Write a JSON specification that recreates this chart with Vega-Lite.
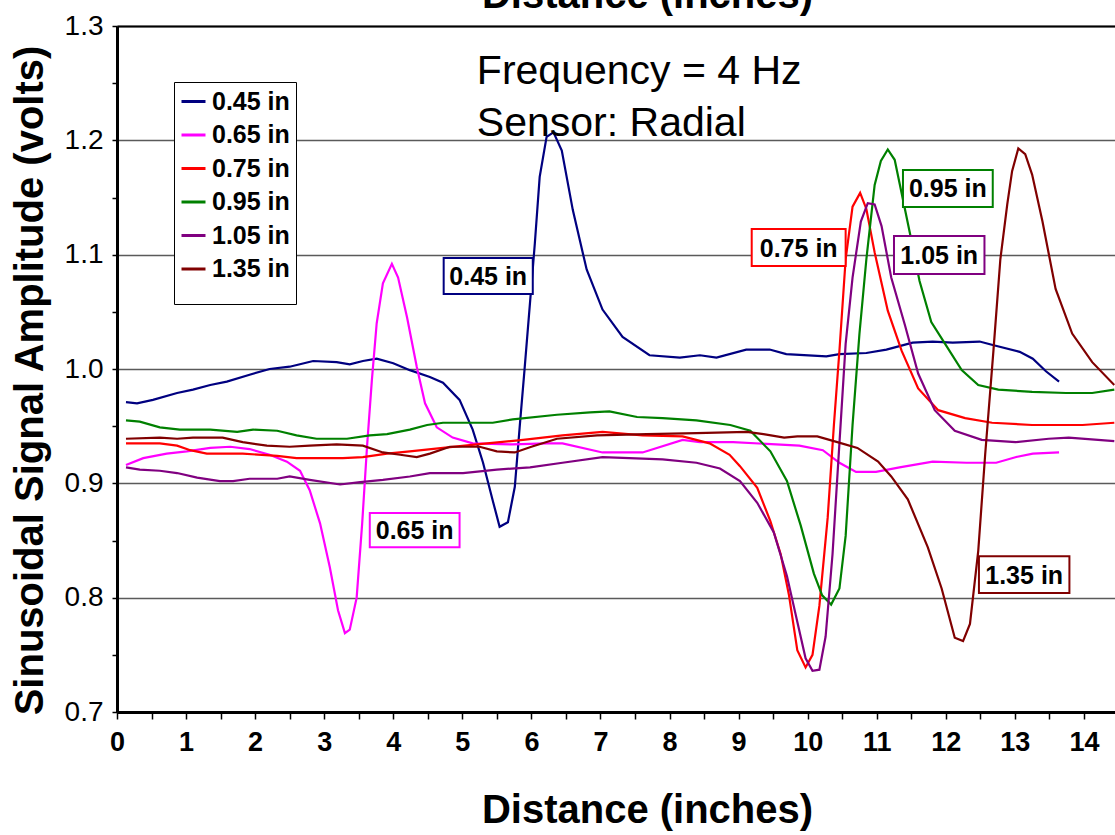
{
  "$schema": "https://vega.github.io/schema/vega-lite/v6.json",
  "autosize": "none",
  "width": 998,
  "height": 686,
  "padding": {"left": 117, "top": 26, "right": 0, "bottom": 123},
  "background": "white",
  "config": {"view": {"stroke": null}, "font": "Liberation Sans"},
  "datasets": {
    "series": [
      {"d":"0.45 in","x":0.13,"y":0.971},{"d":"0.45 in","x":0.29,"y":0.970},{"d":"0.45 in","x":0.52,"y":0.973},{"d":"0.45 in","x":0.87,"y":0.979},{"d":"0.45 in","x":1.10,"y":0.982},{"d":"0.45 in","x":1.35,"y":0.986},{"d":"0.45 in","x":1.59,"y":0.989},{"d":"0.45 in","x":1.92,"y":0.995},{"d":"0.45 in","x":2.21,"y":1.000},{"d":"0.45 in","x":2.50,"y":1.002},{"d":"0.45 in","x":2.84,"y":1.007},{"d":"0.45 in","x":3.18,"y":1.006},{"d":"0.45 in","x":3.37,"y":1.004},{"d":"0.45 in","x":3.56,"y":1.007},{"d":"0.45 in","x":3.76,"y":1.009},{"d":"0.45 in","x":4.00,"y":1.005},{"d":"0.45 in","x":4.24,"y":0.999},{"d":"0.45 in","x":4.53,"y":0.993},{"d":"0.45 in","x":4.72,"y":0.988},{"d":"0.45 in","x":4.96,"y":0.973},{"d":"0.45 in","x":5.15,"y":0.947},{"d":"0.45 in","x":5.30,"y":0.918},{"d":"0.45 in","x":5.44,"y":0.885},{"d":"0.45 in","x":5.54,"y":0.862},{"d":"0.45 in","x":5.66,"y":0.866},{"d":"0.45 in","x":5.76,"y":0.897},{"d":"0.45 in","x":5.83,"y":0.949},{"d":"0.45 in","x":5.90,"y":0.999},{"d":"0.45 in","x":5.98,"y":1.058},{"d":"0.45 in","x":6.05,"y":1.110},{"d":"0.45 in","x":6.12,"y":1.168},{"d":"0.45 in","x":6.22,"y":1.203},{"d":"0.45 in","x":6.32,"y":1.207},{"d":"0.45 in","x":6.44,"y":1.191},{"d":"0.45 in","x":6.60,"y":1.139},{"d":"0.45 in","x":6.80,"y":1.087},{"d":"0.45 in","x":7.03,"y":1.052},{"d":"0.45 in","x":7.32,"y":1.028},{"d":"0.45 in","x":7.71,"y":1.012},{"d":"0.45 in","x":8.15,"y":1.010},{"d":"0.45 in","x":8.44,"y":1.012},{"d":"0.45 in","x":8.68,"y":1.010},{"d":"0.45 in","x":9.11,"y":1.017},{"d":"0.45 in","x":9.45,"y":1.017},{"d":"0.45 in","x":9.69,"y":1.013},{"d":"0.45 in","x":10.27,"y":1.011},{"d":"0.45 in","x":10.46,"y":1.013},{"d":"0.45 in","x":10.85,"y":1.014},{"d":"0.45 in","x":11.14,"y":1.017},{"d":"0.45 in","x":11.52,"y":1.023},{"d":"0.45 in","x":11.81,"y":1.024},{"d":"0.45 in","x":12.10,"y":1.023},{"d":"0.45 in","x":12.49,"y":1.024},{"d":"0.45 in","x":12.68,"y":1.021},{"d":"0.45 in","x":13.07,"y":1.015},{"d":"0.45 in","x":13.26,"y":1.009},{"d":"0.45 in","x":13.45,"y":0.998},{"d":"0.45 in","x":13.64,"y":0.989},
      {"d":"0.65 in","x":0.13,"y":0.916},{"d":"0.65 in","x":0.38,"y":0.922},{"d":"0.65 in","x":0.72,"y":0.926},{"d":"0.65 in","x":1.01,"y":0.928},{"d":"0.65 in","x":1.35,"y":0.931},{"d":"0.65 in","x":1.64,"y":0.932},{"d":"0.65 in","x":1.92,"y":0.930},{"d":"0.65 in","x":2.21,"y":0.925},{"d":"0.65 in","x":2.46,"y":0.919},{"d":"0.65 in","x":2.65,"y":0.911},{"d":"0.65 in","x":2.79,"y":0.894},{"d":"0.65 in","x":2.94,"y":0.865},{"d":"0.65 in","x":3.08,"y":0.827},{"d":"0.65 in","x":3.20,"y":0.789},{"d":"0.65 in","x":3.30,"y":0.769},{"d":"0.65 in","x":3.37,"y":0.772},{"d":"0.65 in","x":3.47,"y":0.800},{"d":"0.65 in","x":3.55,"y":0.865},{"d":"0.65 in","x":3.62,"y":0.932},{"d":"0.65 in","x":3.69,"y":0.990},{"d":"0.65 in","x":3.76,"y":1.040},{"d":"0.65 in","x":3.85,"y":1.075},{"d":"0.65 in","x":3.98,"y":1.092},{"d":"0.65 in","x":4.07,"y":1.080},{"d":"0.65 in","x":4.20,"y":1.045},{"d":"0.65 in","x":4.34,"y":1.002},{"d":"0.65 in","x":4.46,"y":0.970},{"d":"0.65 in","x":4.63,"y":0.949},{"d":"0.65 in","x":4.86,"y":0.940},{"d":"0.65 in","x":5.15,"y":0.935},{"d":"0.65 in","x":5.73,"y":0.934},{"d":"0.65 in","x":6.22,"y":0.935},{"d":"0.65 in","x":6.45,"y":0.935},{"d":"0.65 in","x":7.03,"y":0.927},{"d":"0.65 in","x":7.61,"y":0.927},{"d":"0.65 in","x":8.19,"y":0.938},{"d":"0.65 in","x":8.44,"y":0.936},{"d":"0.65 in","x":8.92,"y":0.936},{"d":"0.65 in","x":9.88,"y":0.933},{"d":"0.65 in","x":10.22,"y":0.929},{"d":"0.65 in","x":10.46,"y":0.918},{"d":"0.65 in","x":10.70,"y":0.910},{"d":"0.65 in","x":10.99,"y":0.910},{"d":"0.65 in","x":11.33,"y":0.914},{"d":"0.65 in","x":11.81,"y":0.919},{"d":"0.65 in","x":12.30,"y":0.918},{"d":"0.65 in","x":12.73,"y":0.918},{"d":"0.65 in","x":13.02,"y":0.923},{"d":"0.65 in","x":13.26,"y":0.926},{"d":"0.65 in","x":13.64,"y":0.927},
      {"d":"0.75 in","x":0.13,"y":0.935},{"d":"0.75 in","x":0.62,"y":0.935},{"d":"0.75 in","x":0.87,"y":0.933},{"d":"0.75 in","x":1.06,"y":0.929},{"d":"0.75 in","x":1.30,"y":0.926},{"d":"0.75 in","x":1.82,"y":0.926},{"d":"0.75 in","x":2.32,"y":0.924},{"d":"0.75 in","x":2.60,"y":0.922},{"d":"0.75 in","x":3.27,"y":0.922},{"d":"0.75 in","x":3.56,"y":0.923},{"d":"0.75 in","x":3.91,"y":0.926},{"d":"0.75 in","x":4.24,"y":0.928},{"d":"0.75 in","x":4.72,"y":0.931},{"d":"0.75 in","x":5.21,"y":0.934},{"d":"0.75 in","x":5.88,"y":0.938},{"d":"0.75 in","x":6.45,"y":0.942},{"d":"0.75 in","x":7.03,"y":0.945},{"d":"0.75 in","x":7.61,"y":0.942},{"d":"0.75 in","x":8.19,"y":0.941},{"d":"0.75 in","x":8.58,"y":0.935},{"d":"0.75 in","x":8.87,"y":0.925},{"d":"0.75 in","x":9.02,"y":0.915},{"d":"0.75 in","x":9.27,"y":0.896},{"d":"0.75 in","x":9.46,"y":0.867},{"d":"0.75 in","x":9.61,"y":0.838},{"d":"0.75 in","x":9.73,"y":0.802},{"d":"0.75 in","x":9.85,"y":0.754},{"d":"0.75 in","x":9.97,"y":0.739},{"d":"0.75 in","x":10.07,"y":0.750},{"d":"0.75 in","x":10.17,"y":0.793},{"d":"0.75 in","x":10.29,"y":0.870},{"d":"0.75 in","x":10.38,"y":0.951},{"d":"0.75 in","x":10.46,"y":1.016},{"d":"0.75 in","x":10.55,"y":1.096},{"d":"0.75 in","x":10.65,"y":1.142},{"d":"0.75 in","x":10.76,"y":1.154},{"d":"0.75 in","x":10.85,"y":1.140},{"d":"0.75 in","x":10.97,"y":1.102},{"d":"0.75 in","x":11.16,"y":1.051},{"d":"0.75 in","x":11.36,"y":1.016},{"d":"0.75 in","x":11.60,"y":0.983},{"d":"0.75 in","x":11.89,"y":0.964},{"d":"0.75 in","x":12.28,"y":0.957},{"d":"0.75 in","x":12.67,"y":0.953},{"d":"0.75 in","x":13.25,"y":0.951},{"d":"0.75 in","x":13.98,"y":0.951},{"d":"0.75 in","x":14.44,"y":0.953},
      {"d":"0.95 in","x":0.13,"y":0.955},{"d":"0.95 in","x":0.33,"y":0.954},{"d":"0.95 in","x":0.62,"y":0.949},{"d":"0.95 in","x":0.91,"y":0.947},{"d":"0.95 in","x":1.35,"y":0.947},{"d":"0.95 in","x":1.74,"y":0.945},{"d":"0.95 in","x":1.97,"y":0.947},{"d":"0.95 in","x":2.32,"y":0.946},{"d":"0.95 in","x":2.60,"y":0.942},{"d":"0.95 in","x":2.89,"y":0.939},{"d":"0.95 in","x":3.33,"y":0.939},{"d":"0.95 in","x":3.66,"y":0.942},{"d":"0.95 in","x":3.91,"y":0.943},{"d":"0.95 in","x":4.24,"y":0.947},{"d":"0.95 in","x":4.49,"y":0.951},{"d":"0.95 in","x":4.72,"y":0.953},{"d":"0.95 in","x":5.44,"y":0.953},{"d":"0.95 in","x":5.73,"y":0.956},{"d":"0.95 in","x":6.37,"y":0.960},{"d":"0.95 in","x":6.85,"y":0.962},{"d":"0.95 in","x":7.13,"y":0.963},{"d":"0.95 in","x":7.53,"y":0.958},{"d":"0.95 in","x":7.90,"y":0.957},{"d":"0.95 in","x":8.39,"y":0.955},{"d":"0.95 in","x":8.88,"y":0.951},{"d":"0.95 in","x":9.17,"y":0.946},{"d":"0.95 in","x":9.46,"y":0.928},{"d":"0.95 in","x":9.70,"y":0.902},{"d":"0.95 in","x":9.90,"y":0.863},{"d":"0.95 in","x":10.09,"y":0.821},{"d":"0.95 in","x":10.21,"y":0.802},{"d":"0.95 in","x":10.34,"y":0.794},{"d":"0.95 in","x":10.46,"y":0.808},{"d":"0.95 in","x":10.55,"y":0.854},{"d":"0.95 in","x":10.65,"y":0.951},{"d":"0.95 in","x":10.75,"y":1.031},{"d":"0.95 in","x":10.85,"y":1.096},{"d":"0.95 in","x":10.97,"y":1.161},{"d":"0.95 in","x":11.06,"y":1.182},{"d":"0.95 in","x":11.16,"y":1.192},{"d":"0.95 in","x":11.26,"y":1.183},{"d":"0.95 in","x":11.36,"y":1.154},{"d":"0.95 in","x":11.48,"y":1.119},{"d":"0.95 in","x":11.62,"y":1.077},{"d":"0.95 in","x":11.79,"y":1.041},{"d":"0.95 in","x":11.99,"y":1.022},{"d":"0.95 in","x":12.23,"y":0.999},{"d":"0.95 in","x":12.47,"y":0.986},{"d":"0.95 in","x":12.76,"y":0.982},{"d":"0.95 in","x":13.25,"y":0.980},{"d":"0.95 in","x":13.74,"y":0.979},{"d":"0.95 in","x":14.12,"y":0.979},{"d":"0.95 in","x":14.44,"y":0.982},
      {"d":"1.05 in","x":0.13,"y":0.914},{"d":"1.05 in","x":0.33,"y":0.912},{"d":"1.05 in","x":0.62,"y":0.911},{"d":"1.05 in","x":0.87,"y":0.909},{"d":"1.05 in","x":1.16,"y":0.905},{"d":"1.05 in","x":1.49,"y":0.902},{"d":"1.05 in","x":1.68,"y":0.902},{"d":"1.05 in","x":1.92,"y":0.904},{"d":"1.05 in","x":2.32,"y":0.904},{"d":"1.05 in","x":2.50,"y":0.906},{"d":"1.05 in","x":2.79,"y":0.903},{"d":"1.05 in","x":3.23,"y":0.899},{"d":"1.05 in","x":3.52,"y":0.901},{"d":"1.05 in","x":3.85,"y":0.903},{"d":"1.05 in","x":4.24,"y":0.906},{"d":"1.05 in","x":4.53,"y":0.909},{"d":"1.05 in","x":5.01,"y":0.909},{"d":"1.05 in","x":5.50,"y":0.912},{"d":"1.05 in","x":5.98,"y":0.914},{"d":"1.05 in","x":6.45,"y":0.918},{"d":"1.05 in","x":7.03,"y":0.923},{"d":"1.05 in","x":7.42,"y":0.922},{"d":"1.05 in","x":7.90,"y":0.921},{"d":"1.05 in","x":8.39,"y":0.918},{"d":"1.05 in","x":8.73,"y":0.913},{"d":"1.05 in","x":9.02,"y":0.902},{"d":"1.05 in","x":9.27,"y":0.883},{"d":"1.05 in","x":9.51,"y":0.857},{"d":"1.05 in","x":9.70,"y":0.819},{"d":"1.05 in","x":9.85,"y":0.779},{"d":"1.05 in","x":9.97,"y":0.747},{"d":"1.05 in","x":10.07,"y":0.736},{"d":"1.05 in","x":10.17,"y":0.737},{"d":"1.05 in","x":10.26,"y":0.766},{"d":"1.05 in","x":10.36,"y":0.838},{"d":"1.05 in","x":10.46,"y":0.935},{"d":"1.05 in","x":10.55,"y":1.022},{"d":"1.05 in","x":10.65,"y":1.080},{"d":"1.05 in","x":10.77,"y":1.129},{"d":"1.05 in","x":10.87,"y":1.145},{"d":"1.05 in","x":10.97,"y":1.144},{"d":"1.05 in","x":11.07,"y":1.125},{"d":"1.05 in","x":11.21,"y":1.080},{"d":"1.05 in","x":11.41,"y":1.038},{"d":"1.05 in","x":11.60,"y":0.996},{"d":"1.05 in","x":11.84,"y":0.964},{"d":"1.05 in","x":12.13,"y":0.946},{"d":"1.05 in","x":12.52,"y":0.938},{"d":"1.05 in","x":13.01,"y":0.936},{"d":"1.05 in","x":13.49,"y":0.939},{"d":"1.05 in","x":13.78,"y":0.940},{"d":"1.05 in","x":14.44,"y":0.937},
      {"d":"1.35 in","x":0.13,"y":0.939},{"d":"1.35 in","x":0.62,"y":0.940},{"d":"1.35 in","x":0.87,"y":0.939},{"d":"1.35 in","x":1.10,"y":0.940},{"d":"1.35 in","x":1.53,"y":0.940},{"d":"1.35 in","x":1.82,"y":0.936},{"d":"1.35 in","x":2.17,"y":0.933},{"d":"1.35 in","x":2.50,"y":0.932},{"d":"1.35 in","x":2.79,"y":0.933},{"d":"1.35 in","x":3.18,"y":0.934},{"d":"1.35 in","x":3.56,"y":0.933},{"d":"1.35 in","x":3.85,"y":0.927},{"d":"1.35 in","x":4.10,"y":0.925},{"d":"1.35 in","x":4.34,"y":0.923},{"d":"1.35 in","x":4.53,"y":0.926},{"d":"1.35 in","x":4.82,"y":0.932},{"d":"1.35 in","x":5.25,"y":0.932},{"d":"1.35 in","x":5.50,"y":0.928},{"d":"1.35 in","x":5.76,"y":0.927},{"d":"1.35 in","x":6.00,"y":0.932},{"d":"1.35 in","x":6.37,"y":0.939},{"d":"1.35 in","x":6.95,"y":0.942},{"d":"1.35 in","x":7.67,"y":0.943},{"d":"1.35 in","x":8.39,"y":0.944},{"d":"1.35 in","x":9.12,"y":0.945},{"d":"1.35 in","x":9.36,"y":0.943},{"d":"1.35 in","x":9.66,"y":0.940},{"d":"1.35 in","x":9.85,"y":0.941},{"d":"1.35 in","x":10.14,"y":0.941},{"d":"1.35 in","x":10.43,"y":0.936},{"d":"1.35 in","x":10.72,"y":0.931},{"d":"1.35 in","x":11.02,"y":0.919},{"d":"1.35 in","x":11.21,"y":0.906},{"d":"1.35 in","x":11.45,"y":0.886},{"d":"1.35 in","x":11.74,"y":0.844},{"d":"1.35 in","x":11.94,"y":0.808},{"d":"1.35 in","x":12.13,"y":0.765},{"d":"1.35 in","x":12.25,"y":0.762},{"d":"1.35 in","x":12.35,"y":0.777},{"d":"1.35 in","x":12.47,"y":0.841},{"d":"1.35 in","x":12.57,"y":0.925},{"d":"1.35 in","x":12.69,"y":1.016},{"d":"1.35 in","x":12.79,"y":1.096},{"d":"1.35 in","x":12.89,"y":1.144},{"d":"1.35 in","x":12.96,"y":1.173},{"d":"1.35 in","x":13.05,"y":1.193},{"d":"1.35 in","x":13.15,"y":1.188},{"d":"1.35 in","x":13.25,"y":1.170},{"d":"1.35 in","x":13.40,"y":1.129},{"d":"1.35 in","x":13.59,"y":1.070},{"d":"1.35 in","x":13.83,"y":1.031},{"d":"1.35 in","x":14.12,"y":1.006},{"d":"1.35 in","x":14.44,"y":0.986}
    ],
    "boxes": [
      {"d":"0.45 in","x1":4.73,"x2":6.02,"y1":1.097,"y2":1.0655,"cx":5.375,"cy":1.0812},
      {"d":"0.65 in","x1":3.66,"x2":4.96,"y1":0.874,"y2":0.8442,"cx":4.31,"cy":0.859},
      {"d":"0.75 in","x1":9.19,"x2":10.55,"y1":1.1224,"y2":1.09,"cx":9.87,"cy":1.106},
      {"d":"0.95 in","x1":11.38,"x2":12.68,"y1":1.174,"y2":1.1416,"cx":12.03,"cy":1.158},
      {"d":"1.05 in","x1":11.25,"x2":12.56,"y1":1.1163,"y2":1.083,"cx":11.905,"cy":1.0996},
      {"d":"1.35 in","x1":12.48,"x2":13.79,"y1":0.8363,"y2":0.804,"cx":13.135,"cy":0.820}
    ],
    "notes": [
      {"t":"Frequency = 4 Hz","x":5.21,"y":1.249},
      {"t":"Sensor: Radial","x":5.21,"y":1.204}
    ]
  },
  "resolve": {"axis": {"x": "independent", "y": "independent"}},
  "layer": [
    {
      "data": {"name": "series"},
      "mark": {"type": "line", "strokeWidth": 2.2, "clip": true},
      "encoding": {
        "x": {"field": "x", "type": "quantitative",
          "scale": {"domain": [0, 14.45], "nice": false, "zero": false},
          "axis": {
            "orient": "bottom",
            "values": [0,0.5,1,1.5,2,2.5,3,3.5,4,4.5,5,5.5,6,6.5,7,7.5,8,8.5,9,9.5,10,10.5,11,11.5,12,12.5,13,13.5,14],
            "labelExpr": "datum.value % 1 === 0 ? format(datum.value, 'd') : ''",
            "grid": false,
            "domainColor": "black", "domainWidth": 3,
            "tickColor": "black", "tickWidth": 1.5, "tickSize": 7,
            "labelFont": "Liberation Sans", "labelFontSize": 27, "labelFontWeight": "bold", "labelColor": "black",
            "labelPadding": 10, "labelFlush": false, "labelOverlap": false,
            "title": "Distance (inches)",
            "titleFont": "Liberation Sans", "titleFontSize": 40, "titleFontWeight": "bold", "titleColor": "black",
            "titleX": 530, "titleY": 110, "titleAlign": "center", "titleBaseline": "alphabetic", "titleAnchor": null
          }
        },
        "y": {"field": "y", "type": "quantitative",
          "scale": {"domain": [0.7, 1.3], "nice": false, "zero": false},
          "axis": {
            "orient": "left",
            "values": [0.7,0.75,0.8,0.85,0.9,0.95,1.0,1.05,1.1,1.15,1.2,1.25,1.3],
            "labelExpr": "abs(datum.value*10 - round(datum.value*10)) < 0.001 ? format(datum.value, '.1f') : ''",
            "grid": true,
            "gridColor": "#5a5a5a", "gridWidth": 1.5,
            "gridOpacity": {"condition": {"test": "abs(datum.value*10 - round(datum.value*10)) < 0.001", "value": 1}, "value": 0},
            "domainColor": "black", "domainWidth": 3,
            "tickColor": "black", "tickWidth": 1.5, "tickSize": 5,
            "labelFont": "Liberation Sans", "labelFontSize": 28, "labelColor": "black",
            "labelPadding": 9, "labelOverlap": false,
            "title": "Sinusoidal Signal Amplitude (volts)",
            "titleFont": "Liberation Sans", "titleFontSize": 40, "titleFontWeight": "bold", "titleColor": "black",
            "titleAngle": -90, "titleX": -75, "titleY": 354, "titleAlign": "center", "titleBaseline": "alphabetic", "titleAnchor": null
          }
        },
        "color": {"field": "d", "type": "nominal",
          "scale": {"domain": ["0.45 in","0.65 in","0.75 in","0.95 in","1.05 in","1.35 in"],
                    "range": ["#000080","#FF00FF","#FF0000","#008000","#800080","#800000"]},
          "legend": {
            "orient": "none", "legendX": 57, "legendY": 56, "direction": "vertical",
            "title": "\u00a0\u00a0\u00a0\u00a0\u00a0\u00a0\u00a0\u00a0\u00a0\u00a0\u00a0\u00a0\u00a0\u00a0\u00a0\u00a0\u00a0\u00a0\u00a0\u00a0\u00a0",
            "titleOrient": "bottom", "titleFontSize": 14, "titlePadding": 2,
            "fillColor": "white", "strokeColor": "black", "padding": 6,
            "symbolType": "stroke", "symbolSize": 576, "symbolStrokeWidth": 3,
            "labelFont": "Liberation Sans", "labelFontSize": 25, "labelFontWeight": "bold", "labelColor": "black",
            "labelOffset": 5, "rowPadding": 6.5
          }
        },
        "order": {"field": "x", "type": "quantitative"}
      }
    },
    {
      "data": {"name": "boxes"},
      "mark": {"type": "rect", "fill": "white", "strokeWidth": 2},
      "encoding": {
        "x": {"field": "x1", "type": "quantitative", "axis": null},
        "x2": {"field": "x2"},
        "y": {"field": "y1", "type": "quantitative", "axis": null},
        "y2": {"field": "y2"},
        "stroke": {"field": "d", "type": "nominal",
          "scale": {"domain": ["0.45 in","0.65 in","0.75 in","0.95 in","1.05 in","1.35 in"],
                    "range": ["#000080","#FF00FF","#FF0000","#008000","#800080","#800000"]},
          "legend": null}
      }
    },
    {
      "data": {"name": "boxes"},
      "mark": {"type": "text", "font": "Liberation Sans", "fontSize": 25, "fontWeight": "bold", "color": "black", "align": "center", "baseline": "middle", "dy": 1},
      "encoding": {
        "x": {"field": "cx", "type": "quantitative", "axis": null},
        "y": {"field": "cy", "type": "quantitative", "axis": null},
        "text": {"field": "d"}
      }
    },
    {
      "data": {"name": "notes"},
      "mark": {"type": "text", "font": "Liberation Sans", "fontSize": 41, "color": "black", "align": "left", "baseline": "alphabetic"},
      "encoding": {
        "x": {"field": "x", "type": "quantitative",
          "axis": {
            "orient": "top", "labels": false, "ticks": false, "grid": false,
            "domain": true, "domainColor": "black", "domainWidth": 2,
            "title": "Distance (inches)",
            "titleFont": "Liberation Sans", "titleFontSize": 40, "titleFontWeight": "bold", "titleColor": "black",
            "titleX": 530, "titleY": -19, "titleAlign": "center", "titleBaseline": "alphabetic", "titleAnchor": null
          }
        },
        "y": {"field": "y", "type": "quantitative", "axis": null},
        "text": {"field": "t"}
      }
    }
  ]
}
